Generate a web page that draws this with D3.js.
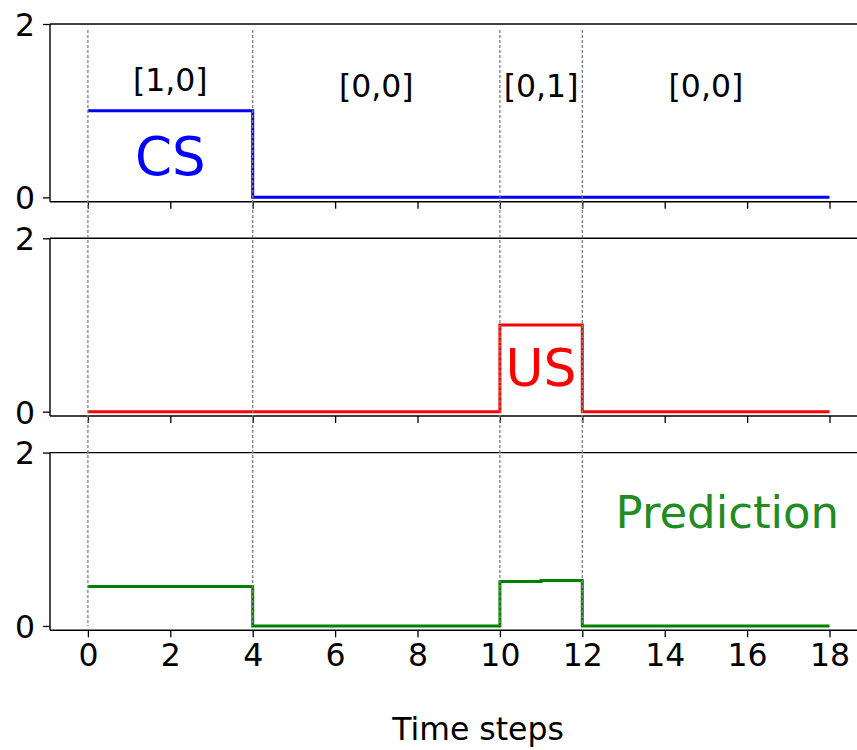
<!DOCTYPE html>
<html>
<head>
<meta charset="utf-8">
<script src="https://cdn.jsdelivr.net/npm/d3@7"></script>
<style>
  body { margin: 0; background: #fff; }
  svg { font-family: "DejaVu Sans", sans-serif; }
</style>
</head>
<body>
<script>
// time axis and the three signals (sampled at integer steps, drawn as step-post)
var timeSteps = [0, 1, 2, 3, 4, 5, 6, 7, 8, 9, 10, 11, 12, 13, 14, 15, 16, 17, 18];
var csValues = [1, 1, 1, 1, 0, 0, 0, 0, 0, 0, 0, 0, 0, 0, 0, 0, 0, 0, 0];
var usValues = [0, 0, 0, 0, 0, 0, 0, 0, 0, 0, 1, 1, 0, 0, 0, 0, 0, 0, 0];
var predValues = [0.454, 0.454, 0.454, 0.454, 0, 0, 0, 0, 0, 0, 0.512, 0.524, 0, 0, 0, 0, 0, 0, 0];

// phase boundaries and input labels
var boundaries = [0, 4, 10, 12];
var phaseLabels = ["[1,0]", "[0,0]", "[0,1]", "[0,0]"];
var phaseCenters = [2, 7, 11, 15];
var phaseLabelY = [1.23, 1.16, 1.16, 1.16];

var xTicks = [0, 2, 4, 6, 8, 10, 12, 14, 16, 18];
var yTicks = [0, 2];

var W = 857, H = 750;
var left = 50, panelH = 177.7, panelStep = 214.3, firstTop = 24;
var labelSize = "31.5px";

var svg = d3.select("body").append("svg")
    .attr("width", W)
    .attr("height", H);

var x = d3.scaleLinear().domain([-0.92, 18.9]).range([left, left + 19.82 * 41.2]);

var panels = [
  {values: csValues, color: "#0000ff", name: "CS", nameColor: "#0000ff", nameX: 2, nameY: 0.26, size: 53},
  {values: usValues, color: "#ff0000", name: "US", nameColor: "#ff0000", nameX: 11, nameY: 0.3, size: 52},
  {values: predValues, color: "#008000", name: "Prediction", nameColor: "#228b22", nameX: 15.52, nameY: 1.13, size: 45}
];

var lastY;

panels.forEach(function (p, i) {
  var top = firstTop + i * panelStep;
  var y = d3.scaleLinear().domain([-0.05, 2]).range([top + panelH, top]);
  lastY = y;

  var g = svg.append("g");

  // step line
  var line = d3.line()
      .x(function (d) { return x(d[0]); })
      .y(function (d) { return y(d[1]); })
      .curve(d3.curveStepAfter);

  g.append("path")
      .datum(timeSteps.map(function (t, k) { return [t, p.values[k]]; }))
      .attr("fill", "none")
      .attr("stroke", p.color)
      .attr("stroke-width", 3)
      .attr("d", line);

  // series name
  g.append("text")
      .attr("x", x(p.nameX))
      .attr("y", y(p.nameY))
      .attr("text-anchor", "middle")
      .attr("fill", p.nameColor)
      .style("font-size", p.size + "px")
      .text(p.name);

  // axes
  var xAxis = d3.axisBottom(x).tickValues(xTicks).tickSize(7).tickPadding(6)
      .tickFormat(i === 2 ? d3.format("d") : function () { return ""; });
  var gx = g.append("g")
      .attr("transform", "translate(0," + (top + panelH) + ")")
      .call(xAxis);

  var yAxis = d3.axisLeft(y).tickValues(yTicks).tickSize(7).tickPadding(8).tickFormat(d3.format("d"));
  var gy = g.append("g")
      .attr("transform", "translate(" + left + ",0)")
      .call(yAxis);

  [gx, gy].forEach(function (a) {
    a.select(".domain").remove();
    a.selectAll(".tick line").attr("stroke", "#000").attr("stroke-width", 1.3);
    a.selectAll(".tick text").attr("fill", "#000").style("font-size", labelSize)
        .style("font-family", "DejaVu Sans, sans-serif");
  });
  gy.selectAll(".tick text").attr("dy", "0.36em");

  // spines
  g.append("line").attr("x1", left).attr("x2", W).attr("y1", top).attr("y2", top)
      .attr("stroke", "#000").attr("stroke-width", 1.4);
  g.append("line").attr("x1", left).attr("x2", W).attr("y1", top + panelH).attr("y2", top + panelH)
      .attr("stroke", "#000").attr("stroke-width", 1.4);
  g.append("line").attr("x1", left).attr("x2", left).attr("y1", top).attr("y2", top + panelH)
      .attr("stroke", "#000").attr("stroke-width", 1.4);

  if (i === 0) {
    g.selectAll(".phase")
        .data(phaseLabels)
        .enter().append("text")
        .attr("class", "phase")
        .attr("x", function (d, k) { return x(phaseCenters[k]); })
        .attr("y", function (d, k) { return y(phaseLabelY[k]); })
        .attr("text-anchor", "middle")
        .style("font-size", labelSize)
        .text(function (d) { return d; });
  }
});

// dotted boundary lines across all panels
var firstY = d3.scaleLinear().domain([-0.05, 2]).range([firstTop + panelH, firstTop]);
svg.selectAll(".bound")
    .data(boundaries)
    .enter().append("line")
    .attr("class", "bound")
    .attr("x1", function (d) { return x(d); })
    .attr("x2", function (d) { return x(d); })
    .attr("y1", firstY(1.93))
    .attr("y2", lastY(0))
    .attr("stroke", "#808080")
    .attr("stroke-width", 1.3)
    .attr("stroke-dasharray", "3,2");

svg.append("text")
    .attr("x", 478)
    .attr("y", 740)
    .attr("text-anchor", "middle")
    .style("font-size", labelSize)
    .text("Time steps");
</script>
</body>
</html>
